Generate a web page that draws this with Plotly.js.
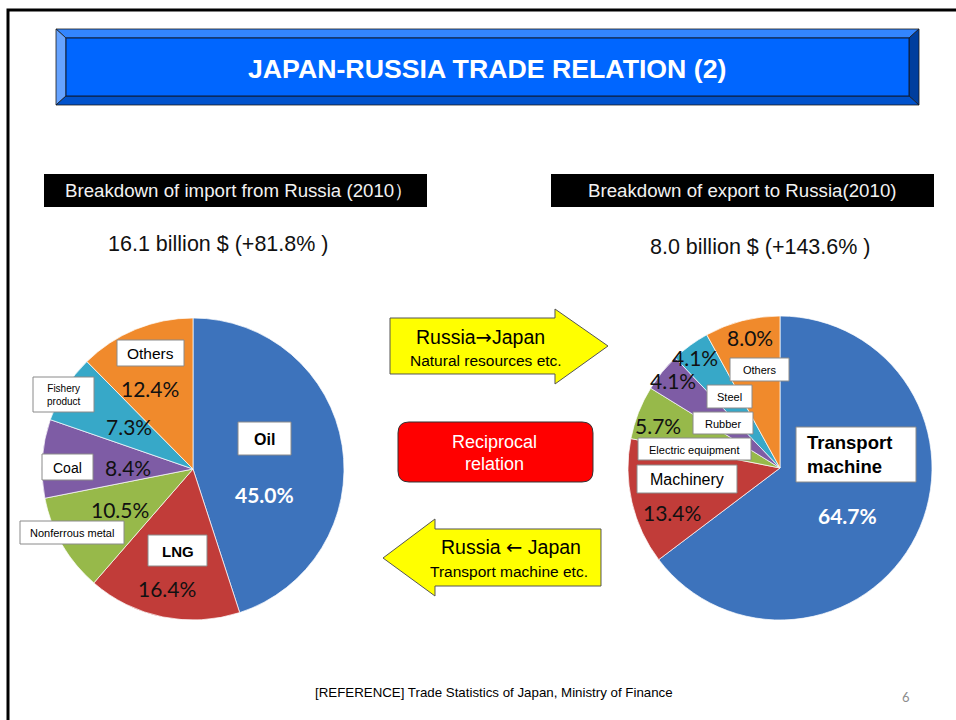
<!DOCTYPE html>
<html>
<head>
<meta charset="utf-8">
<script src="https://cdn.plot.ly/plotly-3.0.1.min.js"></script>
<style>html,body{margin:0;padding:0;background:#fff;}#chart{width:956px;height:720px;}</style>
</head>
<body>
<div id="chart"></div>
<script>
// ---------- data ----------
const importCategories = ['Oil', 'LNG', 'Nonferrous metal', 'Coal', 'Fishery product', 'Others'];
const importShares = [45.0, 16.4, 10.5, 8.4, 7.3, 12.4];
const exportCategories = ['Transport machine', 'Machinery', 'Electric equipment', 'Rubber', 'Steel', 'Others'];
const exportShares = [64.7, 13.4, 5.7, 4.1, 4.1, 8.0];
const importTotal = '16.1 billion $ (+81.8% )';
const exportTotal = '8.0 billion $ (+143.6% )';

// ---------- helpers ----------
const W = 956, H = 720;
const px = x => x / W;
const py = y => 1 - y / H;
const sliceColors = ['#3D73BC', '#C13C39', '#97B94A', '#7E5CA5', '#37A8C8', '#F08A2C'];

function pathStr(cmds) {
  return cmds.map(c => {
    const op = c[0];
    if (op === 'Z') return 'Z';
    let s = op;
    for (let i = 1; i < c.length; i += 2) s += (i > 1 ? ' ' : '') + px(c[i]).toFixed(5) + ',' + py(c[i + 1]).toFixed(5);
    return s;
  }).join(' ');
}
function pathShape(cmds, fill, line, lw) {
  return {type: 'path', xref: 'paper', yref: 'paper', path: pathStr(cmds), fillcolor: fill,
          line: {color: line || fill, width: lw === undefined ? 1 : lw}, layer: 'above'};
}
function rectShape(x0, y0, x1, y1, fill, line, lw) {
  return {type: 'rect', xref: 'paper', yref: 'paper', x0: px(x0), x1: px(x1), y0: py(y1), y1: py(y0),
          fillcolor: fill, line: {color: line || fill, width: lw === undefined ? 1 : lw}, layer: 'above'};
}
function text(t, x, y, size, color, opts) {
  opts = opts || {};
  return Object.assign({xref: 'paper', yref: 'paper', x: px(x), y: py(y), text: t, showarrow: false,
    xanchor: 'center', yanchor: 'middle',
    font: {family: opts.family || 'Liberation Sans, Arial, sans-serif', size: size, color: color}}, opts.extra || {});
}
const fmt = v => v.toFixed(1) + '%';
const pctFont = 'Lato, Noto Sans, sans-serif';
const arrowSpan = a => '<span style="font-family:DejaVu Sans">' + a + '</span>';

// ---------- label placement (layout only) ----------
const importBoxes = [
  {box: [238, 422, 291, 455], size: 16, bold: true, pct: [264, 494], pctColor: '#ffffff', pctBold: true},
  {box: [148, 535, 207, 566], size: 15, bold: true, pct: [167, 588]},
  {box: [20, 521, 124, 544], size: 11, pct: [120, 509]},
  {box: [42, 454, 93, 480], size: 14, pct: [128, 467]},
  {box: [33, 377, 94, 412], size: 10, wrap: true, pct: [129, 426]},
  {box: [117, 340, 184, 366], size: 15.5, pct: [150, 388]}
];
const exportBoxes = [
  {box: [796, 427, 916, 482], size: 18.5, bold: true, wrap: true, left: true, pct: [847, 515], pctColor: '#ffffff', pctBold: true},
  {box: [637, 465, 737, 493], size: 16, pct: [672, 512]},
  {box: [638, 438, 751, 460], size: 11, pct: [658, 425]},
  {box: [693, 412, 753, 434], size: 11, pct: [673, 380]},
  {box: [707, 385, 752, 408], size: 11, pct: [695, 357]},
  {box: [730, 358, 789, 381], size: 11, pct: [750, 337]}
];

const shapes = [];
const annotations = [];

// slide frame
shapes.push({type: 'path', xref: 'paper', yref: 'paper', path: pathStr([['M', 8, 740], ['L', 8, 10], ['L', 970, 10]]),
             line: {color: '#000', width: 3}, layer: 'below'});

// title banner with bevels
shapes.push(pathShape([['M', 56, 29], ['L', 919, 29], ['L', 909, 38], ['L', 66, 38], ['Z']], '#3385FF', '#1a1a1a', 0.8));
shapes.push(pathShape([['M', 56, 29], ['L', 66, 38], ['L', 66, 96], ['L', 56, 105], ['Z']], '#66A3FF', '#1a1a1a', 0.8));
shapes.push(pathShape([['M', 919, 29], ['L', 919, 105], ['L', 909, 96], ['L', 909, 38], ['Z']], '#003E9E', '#1a1a1a', 0.8));
shapes.push(pathShape([['M', 56, 105], ['L', 66, 96], ['L', 909, 96], ['L', 919, 105], ['Z']], '#0052CC', '#1a1a1a', 0.8));
shapes.push(rectShape(66, 38, 909, 96, '#0066FF', '#0a1a3a', 1));
annotations.push(text('<b>JAPAN-RUSSIA TRADE RELATION (2)</b>', 487, 69, 26.7, '#ffffff'));

// header boxes
shapes.push(rectShape(44, 174, 427, 207, '#000000', '#000000', 0));
shapes.push(rectShape(551, 174, 934, 207, '#000000', '#000000', 0));
annotations.push(text('Breakdown of import from Russia (2010）', 239, 191, 18.7, '#F2F2F2'));
annotations.push(text('Breakdown of export to Russia(2010)', 742, 191, 18.7, '#F2F2F2'));
annotations.push(text(importTotal, 218, 244, 21.5, '#111111'));
annotations.push(text(exportTotal, 760, 247, 21.5, '#111111'));

// slice labels
function addLabels(cats, vals, boxes) {
  boxes.forEach((b, i) => {
    const [x0, y0, x1, y1] = b.box;
    shapes.push(rectShape(x0, y0, x1, y1, '#ffffff', '#8a8a8a', 1));
    let name = b.wrap ? cats[i].replace(' ', '<br>') : cats[i];
    if (b.bold) name = '<b>' + name + '</b>';
    if (b.left) {
      annotations.push(text(name, x0 + 9, (y0 + y1) / 2, b.size, '#000000',
        {extra: {xanchor: 'left', align: 'left'}}));
    } else {
      annotations.push(text(name, (x0 + x1) / 2, (y0 + y1) / 2 + 0.5, b.size, '#000000'));
    }
    let p = fmt(vals[i]);
    if (b.pctBold) p = '<b>' + p + '</b>';
    annotations.push(text(p, b.pct[0], b.pct[1], 21, b.pctColor || '#111111', {family: pctFont}));
  });
}
addLabels(importCategories, importShares, importBoxes);
addLabels(exportCategories, exportShares, exportBoxes);

// arrows
shapes.push(pathShape([['M', 390, 318], ['L', 555, 318], ['L', 555, 309], ['L', 608, 346], ['L', 555, 384], ['L', 555, 374], ['L', 390, 374], ['Z']], '#FFFF00', '#555555', 1));
shapes.push(pathShape([['M', 601, 529], ['L', 435, 529], ['L', 435, 519], ['L', 383, 558], ['L', 435, 596], ['L', 435, 586], ['L', 601, 586], ['Z']], '#FFFF00', '#555555', 1));
annotations.push(text('Russia' + arrowSpan('→') + 'Japan', 480, 337, 19.5, '#000000'));
annotations.push(text('Natural resources etc.', 486, 360, 15.5, '#000000'));
annotations.push(text('Russia ' + arrowSpan('←') + ' Japan', 511, 547, 19.5, '#000000'));
annotations.push(text('Transport machine etc.', 509, 571, 15.5, '#000000'));

// reciprocal box (rounded)
const r = 11, bx0 = 398, by0 = 422, bx1 = 593, by1 = 482;
shapes.push(pathShape([['M', bx0 + r, by0], ['L', bx1 - r, by0], ['Q', bx1, by0, bx1, by0 + r], ['L', bx1, by1 - r],
  ['Q', bx1, by1, bx1 - r, by1], ['L', bx0 + r, by1], ['Q', bx0, by1, bx0, by1 - r], ['L', bx0, by0 + r],
  ['Q', bx0, by0, bx0 + r, by0], ['Z']], '#FF0000', '#333333', 1));
annotations.push(text('Reciprocal', 494, 442, 18, '#ffffff'));
annotations.push(text('relation', 494, 464, 18, '#ffffff'));

// footer
annotations.push(text('[REFERENCE] Trade Statistics of Japan, Ministry of Finance', 494, 692, 13.3, '#000000'));
annotations.push(text('6', 906, 697, 13, '#8c8c8c', {family: pctFont}));

// ---------- traces ----------
const traces = [
  {type: 'pie', labels: importCategories, values: importShares, sort: false, direction: 'clockwise', rotation: 0,
   textinfo: 'none', hoverinfo: 'label+percent', showlegend: false,
   marker: {colors: sliceColors, line: {color: 'rgba(255,255,255,0.7)', width: 1}},
   domain: {x: [px(42), px(344)], y: [py(620), py(318)]}},
  {type: 'pie', labels: exportCategories, values: exportShares, sort: false, direction: 'clockwise', rotation: 0,
   textinfo: 'none', hoverinfo: 'label+percent', showlegend: false,
   marker: {colors: sliceColors, line: {color: 'rgba(255,255,255,0.7)', width: 1}},
   domain: {x: [px(628), px(932)], y: [py(620), py(316)]}}
];

Plotly.newPlot('chart', traces, {
  width: W, height: H, margin: {l: 0, r: 0, t: 0, b: 0},
  paper_bgcolor: '#ffffff', plot_bgcolor: '#ffffff', showlegend: false,
  shapes: shapes, annotations: annotations
}, {displayModeBar: false, staticPlot: true});
</script>
</body>
</html>
